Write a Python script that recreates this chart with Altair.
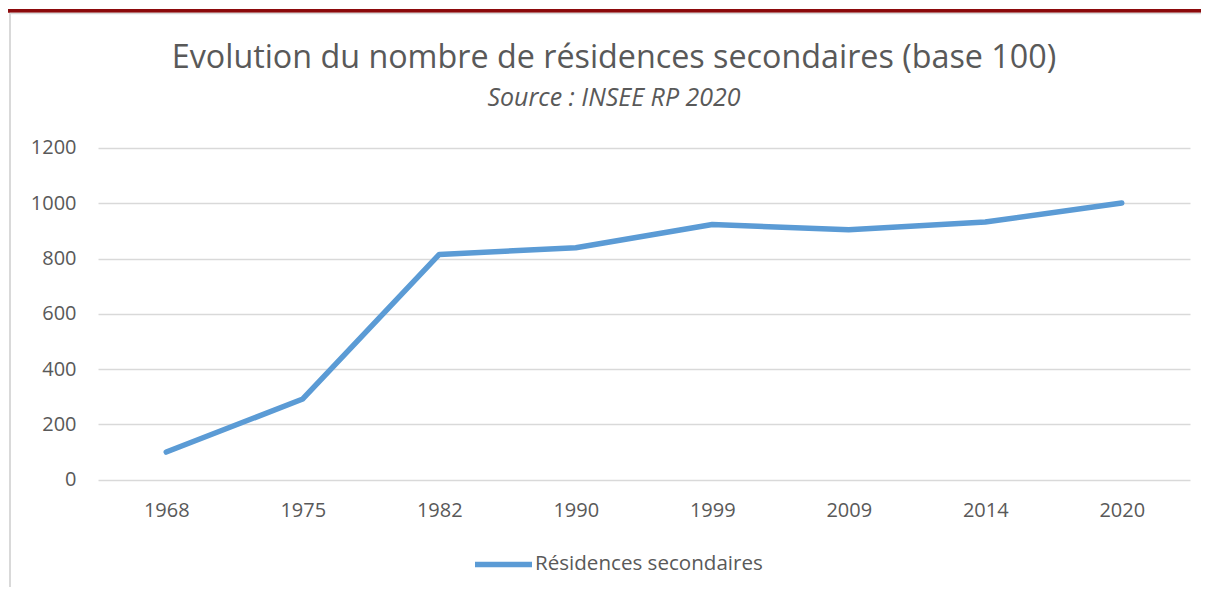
import altair as alt
import pandas as pd

years = ["1968", "1975", "1982", "1990", "1999", "2009", "2014", "2020"]
values = [100, 292, 815, 839, 923, 904, 932, 1001]
series = "Résidences secondaires"

df = pd.DataFrame({"annee": years, "valeur": values, "serie": [series] * len(years)})
deco = pd.DataFrame({"k": [0]})

FONT = "Open Sans"
GREY_TXT = "#595959"

line = alt.Chart(df).mark_line(strokeWidth=5.5, strokeCap="round", strokeJoin="round").encode(
    x=alt.X("annee:O", sort=years, title=None,
            axis=alt.Axis(labelAngle=0, ticks=False, tickSize=0, domain=False, grid=False,
                          labelPadding=21, labelFontSize=20, labelColor=GREY_TXT, labelFont=FONT)),
    y=alt.Y("valeur:Q", title=None,
            scale=alt.Scale(domain=[0, 1200], nice=False),
            axis=alt.Axis(values=[0, 200, 400, 600, 800, 1000, 1200], format="d", ticks=False, tickSize=0,
                          domain=False, grid=True, gridColor="#D9D9D9", gridWidth=1.3,
                          labelPadding=22, labelFontSize=20, labelColor=GREY_TXT, labelFont=FONT)),
    color=alt.Color("serie:N", title=None,
                    scale=alt.Scale(domain=[series], range=["#5B9BD5"]),
                    legend=alt.Legend(orient="none", legendX=374, legendY=385, padding=0,
                                      symbolType="stroke", symbolSize=3249, symbolStrokeWidth=5.5,
                                      labelOffset=0, labelFontSize=20.6, labelColor=GREY_TXT,
                                      labelFont=FONT, labelLimit=0)),
)

red_bar = alt.Chart(deco).mark_rule(color="#8C0A0C", strokeWidth=3.7).encode(
    x=alt.value(-90), x2=alt.value(1111), y=alt.value(-137.2))
top_border = alt.Chart(deco).mark_rule(color="#D9D9D9", strokeWidth=1.5).encode(
    x=alt.value(-88), x2=alt.value(1111), y=alt.value(-134.5))
left_border = alt.Chart(deco).mark_rule(color="#D9D9D9", strokeWidth=2).encode(
    x=alt.value(-88), y=alt.value(-135), y2=alt.value(445))

chart = alt.layer(red_bar, top_border, left_border, line).properties(
    width=1092,
    height=331.7,
    autosize=alt.AutoSizeParams(type="none"),
    padding={"left": 90, "top": 140, "right": 11, "bottom": 107},
    title=alt.TitleParams(
        text="Evolution du nombre de résidences secondaires (base 100)",
        subtitle="Source : INSEE RP 2020",
        anchor="middle", dx=-30, dy=132, offset=30,
        font=FONT, fontSize=32.3, fontWeight="normal", color=GREY_TXT,
        subtitleFont=FONT, subtitleFontSize=25, subtitleFontStyle="italic",
        subtitleColor=GREY_TXT, subtitlePadding=12,
    ),
).configure_view(stroke=None)

chart.save("out.html", embed_options={"renderer": "svg", "actions": False})
